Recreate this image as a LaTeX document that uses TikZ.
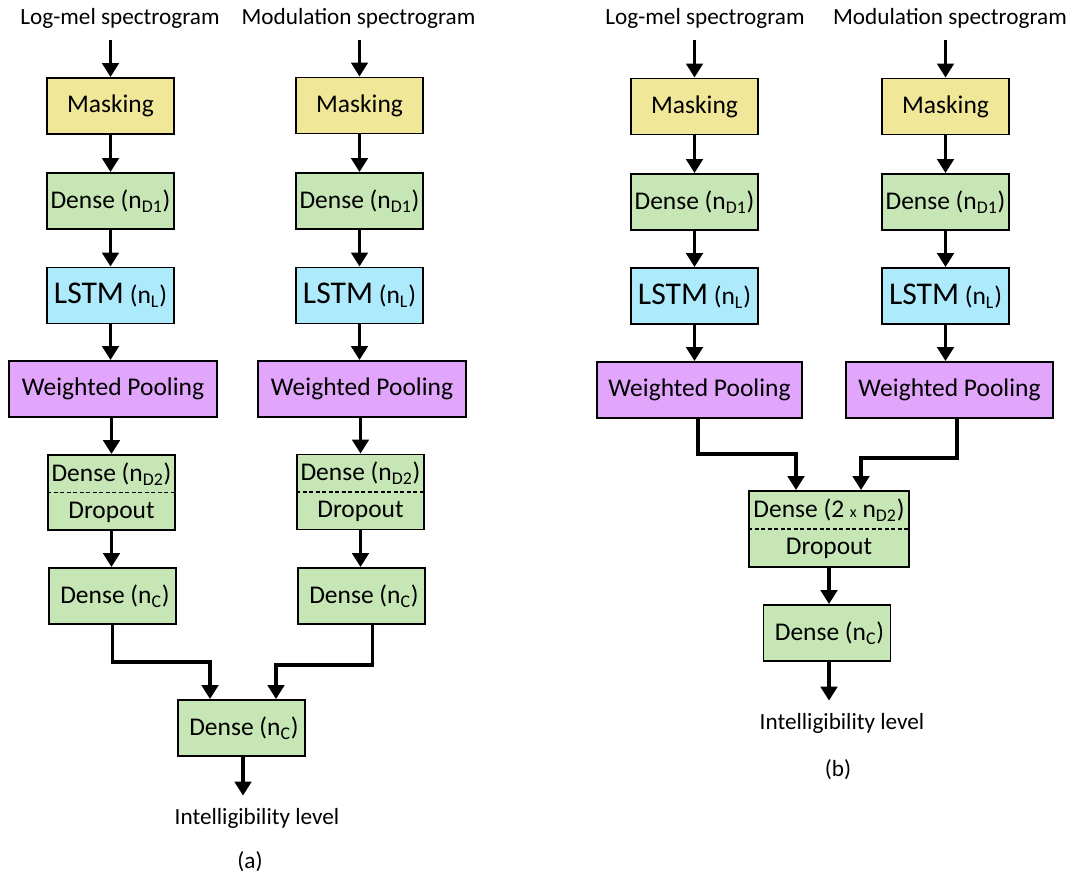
\documentclass[tikz,border=0pt]{standalone}
\usepackage{fontspec}
\setmainfont{Carlito}
\usepackage{tikz}
\definecolor{maskyellow}{RGB}{241, 231, 153}
\definecolor{densegreen}{RGB}{198, 230, 181}
\definecolor{lstmblue}{RGB}{172, 234, 252}
\definecolor{poolviolet}{RGB}{225, 166, 252}
\usetikzlibrary{arrows.meta, positioning}

\begin{document}
\begin{tikzpicture}[x=0.02cm, y=-0.02cm,
        block/.style={draw=black, line width=1.1pt, minimum width=2.54cm, minimum height=1.12cm,
              inner sep=0pt, align=center, font=\fontsize{14.5}{21}\selectfont},
        maskbox/.style={block, fill=maskyellow},
        densebox/.style={block, fill=densegreen},
        lstmbox/.style={block, fill=lstmblue},
        poolbox/.style={block, fill=poolviolet, minimum width=4.16cm},
        dropbox/.style={densebox, minimum height=1.5cm},
        inlabel/.style={inner xsep=0pt, inner ysep=0.24cm, font=\fontsize{13.2}{16}\selectfont},
        flow/.style={line width=1.9pt, -{Triangle[length=2.8mm, width=3.3mm]}},
        divider/.style={line width=0.7pt, dash pattern=on 2.5pt off 1.2pt}]
    \useasboundingbox (0,0) rectangle (1070,875);

    % (a) log-mel branch
    \node[inlabel] (lblA1) at (120,18) {Log-mel spectrogram};
    \node[maskbox] (maskA1) at (110.5,106) {Masking};
    \node[densebox] (dnsA1) at (110.5,201) {Dense (n\textsubscript{D1})};
    \node[lstmbox] (lstmA1) at (110.5,295.5) {{\fontsize{18}{21}\selectfont LSTM} (n\textsubscript{L})};
    \node[poolbox] (poolA1) at (113,389) {Weighted Pooling};
    \node[dropbox] (ddA1) at (111.5,492.5) {Dense (n\textsubscript{D2})\\Dropout};
    \node[densebox] (ncA1) at (112.5,596) {\hspace{0.1cm}Dense (n\textsubscript{C})};

    % (a) modulation branch
    \node[inlabel] (lblA2) at (358.5,18) {Modulation spectrogram};
    \node[maskbox] (maskA2) at (359.5,105.5) {Masking};
    \node[densebox] (dnsA2) at (359.5,201) {Dense (n\textsubscript{D1})};
    \node[lstmbox] (lstmA2) at (359.5,295.5) {{\fontsize{18}{21}\selectfont LSTM} (n\textsubscript{L})};
    \node[poolbox] (poolA2) at (362,389) {Weighted Pooling};
    \node[dropbox] (ddA2) at (360.5,492) {Dense (n\textsubscript{D2})\\Dropout};
    \node[densebox] (ncA2) at (361.5,596) {\hspace{0.1cm}Dense (n\textsubscript{C})};

    % (a) output
    \node[densebox] (outA) at (241.5,728) {\hspace{0.1cm}Dense (n\textsubscript{C})};
    \node[inlabel] (resA) at (257,818) {Intelligibility level};
    \node[inlabel] (capA) at (250,862) {(a)};

    \draw[divider] (ddA1.west) -- (ddA1.east);
    \draw[divider] (ddA2.west) -- (ddA2.east);

    \draw[flow] (lblA1.south -| maskA1.north) -- (maskA1.north);
    \draw[flow] (maskA1.south) -- (dnsA1.north);
    \draw[flow] (dnsA1.south) -- (lstmA1.north);
    \draw[flow] (lstmA1.south) -- (lstmA1.south |- poolA1.north);
    \draw[flow] (poolA1.south -| ddA1.north) -- (ddA1.north);
    \draw[flow] (ddA1.south) -- (ddA1.south |- ncA1.north);
    \draw[flow] (lblA2.south -| maskA2.north) -- (maskA2.north);
    \draw[flow] (maskA2.south) -- (dnsA2.north);
    \draw[flow] (dnsA2.south) -- (lstmA2.north);
    \draw[flow] (lstmA2.south) -- (lstmA2.south |- poolA2.north);
    \draw[flow] (poolA2.south -| ddA2.north) -- (ddA2.north);
    \draw[flow] (ddA2.south) -- (ddA2.south |- ncA2.north);
    \draw[flow] (ncA1.south) -- ++(0,37) -| ([xshift=-0.63cm]outA.north);
    \draw[flow] ([xshift=0.22cm]ncA2.south) -- ++(0,40) -| ([xshift=0.69cm]outA.north);
    \draw[flow] ([xshift=0.03cm]outA.south) -- ([xshift=0.03cm]outA.south |- resA.north);

    % (b) log-mel branch
    \node[inlabel] (lblB1) at (705,18) {Log-mel spectrogram};
    \node[maskbox] (maskB1) at (694.5,106.5) {Masking};
    \node[densebox] (dnsB1) at (694.5,202) {Dense (n\textsubscript{D1})};
    \node[lstmbox] (lstmB1) at (694.5,296) {{\fontsize{18}{21}\selectfont LSTM} (n\textsubscript{L})};
    \node[poolbox, minimum width=4.1cm] (poolB1) at (699.5,390) {Weighted Pooling};

    % (b) modulation branch
    \node[inlabel] (lblB2) at (950,18) {Modulation spectrogram};
    \node[maskbox] (maskB2) at (945.5,106.5) {Masking};
    \node[densebox] (dnsB2) at (945.5,202) {Dense (n\textsubscript{D1})};
    \node[lstmbox] (lstmB2) at (945.5,296) {{\fontsize{18}{21}\selectfont LSTM} (n\textsubscript{L})};
    \node[poolbox, minimum width=4.14cm] (poolB2) at (949.5,390) {Weighted Pooling};

    % (b) merged head
    \node[dropbox, minimum width=3.2cm, minimum height=1.52cm] (ddB) at (829,529)
        {Dense (2 {\fontsize{9}{10}\selectfont x} n\textsubscript{D2})\\Dropout};
    \node[densebox] (ncB) at (827,633) {\hspace{0.1cm}Dense (n\textsubscript{C})};
    \node[inlabel] (resB) at (842,723) {Intelligibility level};
    \node[inlabel] (capB) at (838,770) {(b)};

    \draw[divider] (ddB.west) -- (ddB.east);

    \draw[flow] (lblB1.south -| maskB1.north) -- (maskB1.north);
    \draw[flow] (maskB1.south) -- (dnsB1.north);
    \draw[flow] (dnsB1.south) -- (lstmB1.north);
    \draw[flow] (lstmB1.south) -- (lstmB1.south |- poolB1.north);
    \draw[flow] (lblB2.south -| maskB2.north) -- (maskB2.north);
    \draw[flow] (maskB2.south) -- (dnsB2.north);
    \draw[flow] (dnsB2.south) -- (lstmB2.north);
    \draw[flow] (lstmB2.south) -- (lstmB2.south |- poolB2.north);
    \draw[flow] ([xshift=-0.03cm]poolB1.south) -- ++(0,35) -| ([xshift=-0.66cm]ddB.north);
    \draw[flow] ([xshift=0.15cm]poolB2.south) -- ++(0,39) -| ([xshift=0.64cm]ddB.north);
    \draw[flow] (ddB.south) -- (ddB.south |- ncB.north);
    \draw[flow] ([xshift=0.04cm]ncB.south) -- ([xshift=0.04cm]ncB.south |- resB.north);
\end{tikzpicture}
\end{document}
